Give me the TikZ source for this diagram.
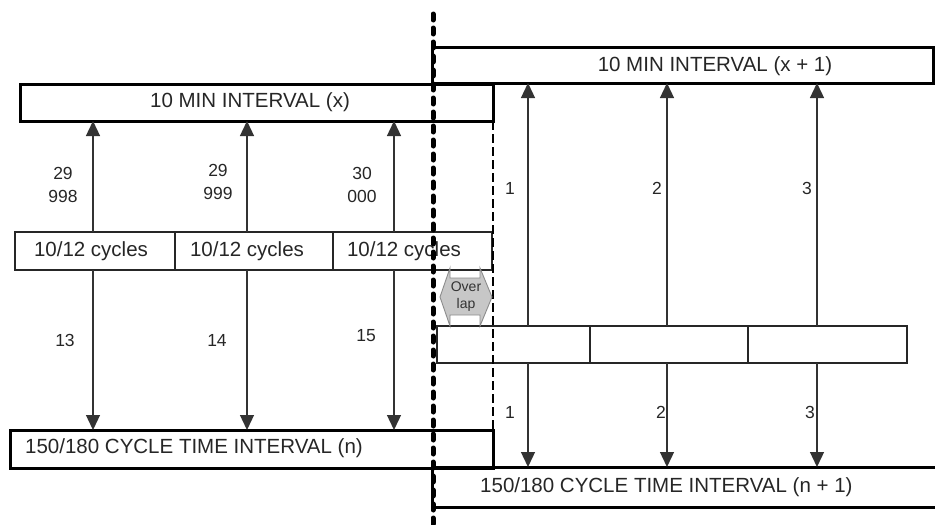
\documentclass[tikz,border=0pt]{standalone}
\usepackage{fontspec}
\setmainfont{Liberation Sans}
\usetikzlibrary{arrows.meta}
\begin{document}
\begin{tikzpicture}[x=1pt,y=-1pt,
  box/.style={draw=black,line width=3pt,inner sep=0,outer sep=0,anchor=north west},
  cbox/.style={draw=black!85,line width=1.3pt,inner sep=0,outer sep=0,anchor=north west,minimum height=38pt},
  ttl/.style={font=\fontsize{20.5}{22}\selectfont,text=black!85,inner sep=0},
  num/.style={font=\fontsize{17.5}{23}\selectfont,text=black!85,inner sep=0,align=center},
  arr/.style={draw=black!80,line width=1.3pt,-{Triangle[width=14pt,length=15pt]}}]
\useasboundingbox (0,0) rectangle (935,525);
% big boxes
\node[box,minimum width=473pt,minimum height=37pt] (tx) at (20,84) {};
\node[box,minimum width=501pt,minimum height=36pt] (tx1) at (432,47) {};
\node[box,minimum width=483pt,minimum height=38pt] (bn) at (10,430) {};
\node[box,minimum width=520pt,minimum height=40pt] (bn1) at (432,467) {};
\node[ttl] (ttx) at (250,102) {10 MIN INTERVAL (x)};
\node[ttl] (ttx1) at (715,66) {10 MIN INTERVAL (x + 1)};
\node[ttl,anchor=west] (tbn) at (25,448) {150/180 CYCLE TIME INTERVAL (n)};
\node[ttl,anchor=west] (tbn1) at (480,487) {150/180 CYCLE TIME INTERVAL (n + 1)};
% cycle boxes
\node[cbox,minimum width=160pt] (c1) at (15,232) {};
\node[cbox,minimum width=158pt] (c2) at (175,232) {};
\node[cbox,minimum width=159pt] (c3) at (333,232) {};
\node[ttl] (tc1) at (91,251) {10/12 cycles};
\node[ttl] (tc2) at (247,251) {10/12 cycles};
\node[ttl] (tc3) at (404,251) {10/12 cycles};
\node[cbox,minimum width=153pt,minimum height=37pt] (r1) at (437,326) {};
\node[cbox,minimum width=158pt,minimum height=37pt] (r2) at (590,326) {};
\node[cbox,minimum width=159pt,minimum height=37pt] (r3) at (748,326) {};
% dashed overlap line
\coordinate (dA) at (493,121);
\coordinate (dB) at (493,430);
\draw[black,line width=1.4pt,dash pattern=on 9pt off 4pt] (dA) -- (dB);
% left arrows
\draw[arr] ([xshift=-2pt]c1.north) -- ([xshift=-2pt]c1.north |- tx.south);
\draw[arr] ([xshift=-7pt]c2.north) -- ([xshift=-7pt]c2.north |- tx.south);
\draw[arr] ([xshift=-18.5pt]c3.north) -- ([xshift=-18.5pt]c3.north |- tx.south);
\draw[arr] ([xshift=-2pt]c1.south) -- ([xshift=-2pt]c1.south |- bn.north);
\draw[arr] ([xshift=-7pt]c2.south) -- ([xshift=-7pt]c2.south |- bn.north);
\draw[arr] ([xshift=-18.5pt]c3.south) -- ([xshift=-18.5pt]c3.south |- bn.north);
% right arrows
\draw[arr] ([xshift=14.5pt]r1.north) -- ([xshift=14.5pt]r1.north |- tx1.south);
\draw[arr] ([xshift=-2pt]r2.north) -- ([xshift=-2pt]r2.north |- tx1.south);
\draw[arr] ([xshift=-10.5pt]r3.north) -- ([xshift=-10.5pt]r3.north |- tx1.south);
\draw[arr] ([xshift=14.5pt]r1.south) -- ([xshift=14.5pt]r1.south |- bn1.north);
\draw[arr] ([xshift=-2pt]r2.south) -- ([xshift=-2pt]r2.south |- bn1.north);
\draw[arr] ([xshift=-10.5pt]r3.south) -- ([xshift=-10.5pt]r3.south |- bn1.north);
% labels
\node[num] (l1) at (63,185) {29\\998};
\node[num] (l2) at (218,182) {29\\999};
\node[num] (l3) at (362,185) {30\\000};
\node[num] (l4) at (65,340) {13};
\node[num] (l5) at (217,340) {14};
\node[num] (l6) at (366,336) {15};
\node[num] (u1) at (510,188) {1};
\node[num] (u2) at (657,188) {2};
\node[num] (u3) at (807,188) {3};
\node[num] (d1) at (510,412) {1};
\node[num] (d2) at (661,412) {2};
\node[num] (d3) at (810,412) {3};
% overlap arrow
\draw[fill=black!22,draw=black!45,line width=0.9pt]
  (440,297) -- (450,268) -- (450,278) -- (480,278) -- (480,268) -- (492,297)
  -- (480,326) -- (480,315) -- (450,315) -- (450,326) -- cycle;
\node[font=\fontsize{14}{17}\selectfont,text=black!80,align=center,inner sep=0] (ov) at (466,297) {Over\\lap};
% thick dotted divider
\coordinate (vA) at (433,14);
\coordinate (vB) at (433,530);
\draw[black,line width=5pt,line cap=round,dash pattern=on 6pt off 8pt] (vA) -- (vB);
\end{tikzpicture}
\end{document}
